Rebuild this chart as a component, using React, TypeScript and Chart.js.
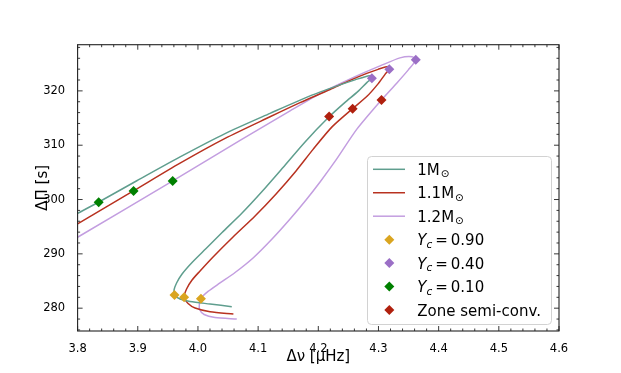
import React, { useEffect, useRef } from 'react';
import { Chart, registerables } from 'chart.js';

Chart.register(...registerables);

// ---- Data ----
const massLabels = ['1M', '1.1M', '1.2M'];
const lineColors = ['#5f9e8e', '#b83220', '#c39ee0'];

const track1_dnu = [4.0562, 4.0201, 3.9869, 3.9703, 3.9615, 3.9603, 3.9645, 3.9736, 3.9902, 4.0135, 4.0401, 4.0733, 4.1065, 4.1414, 4.1780, 4.2184, 4.2444, 4.2660, 4.2810, 4.2890, 4.2851, 4.2610, 4.2361, 4.1863, 4.1198, 4.0451, 3.9703, 3.8984, 3.8346, 3.8000];
const track1_dP = [280.28, 280.77, 281.23, 281.69, 282.43, 283.35, 284.64, 286.30, 288.42, 290.99, 293.94, 297.53, 301.49, 305.91, 310.61, 315.27, 317.88, 319.91, 321.57, 322.34, 322.80, 322.03, 321.10, 319.08, 315.86, 312.14, 307.85, 303.46, 299.50, 297.46];

const track11_dnu = [4.0589, 4.0201, 3.9952, 3.9836, 3.9770, 3.9811, 3.9902, 4.0035, 4.0251, 4.0583, 4.0949, 4.1298, 4.1630, 4.1913, 4.2228, 4.2566, 4.2805, 4.2993, 4.3109, 4.3180, 4.3164, 4.2993, 4.2805, 4.2527, 4.2195, 4.1697, 4.1198, 4.0451, 3.9703, 3.8927, 3.8000];
const track11_dP = [278.93, 279.36, 280.04, 280.87, 282.01, 283.54, 285.19, 286.85, 289.43, 293.11, 296.98, 301.03, 305.27, 309.23, 313.37, 316.69, 318.95, 321.29, 323.04, 324.00, 324.48, 323.96, 323.22, 321.93, 320.26, 317.83, 315.23, 311.25, 306.69, 301.58, 295.51];

const track12_dnu = [4.0645, 4.0284, 4.0102, 4.0027, 4.0024, 4.0047, 4.0168, 4.0367, 4.0617, 4.0916, 4.1231, 4.1531, 4.1796, 4.2029, 4.2295, 4.2644, 4.3050, 4.3303, 4.3496, 4.3620, 4.3557, 4.3358, 4.3026, 4.2639, 4.2084, 4.1531, 4.0700, 3.9582, 3.8000];
const track12_dP = [278.01, 278.29, 278.84, 279.76, 280.77, 281.75, 283.08, 284.64, 286.57, 289.25, 292.74, 296.43, 299.93, 303.24, 307.29, 313.00, 318.34, 321.42, 323.87, 325.71, 326.30, 326.08, 324.60, 322.76, 319.82, 316.32, 310.88, 303.43, 293.06];

const markerLabels = ['0.90', '0.40', '0.10', 'Zone semi-conv.'];
const markerColors = ['#daa520', '#9b6fc6', '#008000', '#b0200e'];

const yc090_dnu = [3.961, 3.977, 4.005];
const yc090_dP = [282.43, 282.01, 281.75];
const yc040_dnu = [4.289, 4.318, 4.362];
const yc040_dP = [322.34, 324.00, 325.71];
const yc010_dnu = [3.835, 3.893, 3.958];
const yc010_dP = [299.50, 301.58, 303.43];
const semi_dnu = [4.218, 4.257, 4.305];
const semi_dP = [315.27, 316.69, 318.34];

const xMajorTicks = [3.8, 3.9, 4.0, 4.1, 4.2, 4.3, 4.4, 4.5, 4.6];
const yMajorTicks = [280, 290, 300, 310, 320];
const xMinorStep = 0.02;
const yMinorStep = 2;
const xRange = [3.8, 4.6];
const yRange = [275.8, 328.5];

const FONT = 'DejaVu Sans';

const pts = (xs: number[], ys: number[]) => xs.map((x, i) => ({ x, y: ys[i] }));

const frameTicksPlugin = {
  id: 'frameTicks',
  afterDatasetsDraw(chart: any) {
    const { ctx, chartArea: a, scales } = chart;
    const xs = scales.x, ys = scales.y;
    ctx.save();
    ctx.strokeStyle = '#222';
    ctx.lineWidth = 0.9;
    const tick = (x1: number, y1: number, x2: number, y2: number) => {
      ctx.beginPath(); ctx.moveTo(x1, y1); ctx.lineTo(x2, y2); ctx.stroke();
    };
    for (let v = xRange[0]; v <= xRange[1] + 1e-9; v += xMinorStep) {
      const isMajor = xMajorTicks.some(m => Math.abs(m - v) < 1e-6);
      const len = isMajor ? 5 : 2.5;
      const px = xs.getPixelForValue(v);
      tick(px, a.bottom, px, a.bottom - len);
      tick(px, a.top, px, a.top + len);
    }
    for (let v = 276; v <= yRange[1]; v += yMinorStep) {
      const isMajor = yMajorTicks.includes(v);
      const len = isMajor ? 5 : 2.5;
      const py = ys.getPixelForValue(v);
      tick(a.left, py, a.left + len, py);
      tick(a.right, py, a.right - len, py);
    }
    ctx.lineWidth = 1.1;
    ctx.strokeRect(a.left, a.top, a.right - a.left, a.bottom - a.top);
    ctx.restore();
  },
};

const legendPlugin = {
  id: 'customLegend',
  afterDraw(chart: any) {
    const ctx = chart.ctx;
    ctx.save();
    const bx = 367.5, by = 156.5, bw = 184, bh = 168, r = 4;
    ctx.beginPath();
    ctx.moveTo(bx + r, by);
    ctx.arcTo(bx + bw, by, bx + bw, by + bh, r);
    ctx.arcTo(bx + bw, by + bh, bx, by + bh, r);
    ctx.arcTo(bx, by + bh, bx, by, r);
    ctx.arcTo(bx, by, bx + bw, by, r);
    ctx.closePath();
    ctx.fillStyle = 'rgba(255,255,255,0.8)';
    ctx.fill();
    ctx.strokeStyle = '#d2d2d2';
    ctx.lineWidth = 1;
    ctx.stroke();

    const rowY0 = 169.3, rowStep = 23.45;
    const textX = 417.3;
    ctx.fillStyle = '#000';
    ctx.textBaseline = 'alphabetic';
    ctx.textAlign = 'left';
    massLabels.forEach((lab, i) => {
      const y = rowY0 + i * rowStep;
      ctx.strokeStyle = lineColors[i];
      ctx.lineWidth = 1.5;
      ctx.beginPath(); ctx.moveTo(373, y); ctx.lineTo(405, y); ctx.stroke();
      ctx.fillStyle = '#000';
      ctx.font = `15px "${FONT}"`;
      const base = y + 5.5;
      ctx.fillText(lab, textX, base);
      const w = ctx.measureText(lab).width;
      ctx.font = `10.5px "${FONT}"`;
      ctx.fillText('\u2299', textX + w + 1, base + 2.5);
    });
    markerLabels.forEach((lab, i) => {
      const y = rowY0 + (i + 3) * rowStep;
      const mx = 389.3, rr = 5;
      ctx.fillStyle = markerColors[i];
      ctx.beginPath();
      ctx.moveTo(mx - rr, y); ctx.lineTo(mx, y - rr); ctx.lineTo(mx + rr, y); ctx.lineTo(mx, y + rr);
      ctx.closePath(); ctx.fill();
      ctx.fillStyle = '#000';
      const base = y + 5.5;
      if (i < 3) {
        let x = textX;
        ctx.font = `italic 15px "${FONT}"`;
        ctx.fillText('Y', x, base);
        x += ctx.measureText('Y').width;
        ctx.font = `italic 10.5px "${FONT}"`;
        ctx.fillText('c', x, base + 2.5);
        x += ctx.measureText('c').width + 3;
        ctx.font = `15px "${FONT}"`;
        ctx.fillText('=', x, base);
        x += ctx.measureText('=').width + 3;
        ctx.fillText(lab, x, base);
      } else {
        ctx.font = `15px "${FONT}"`;
        ctx.fillText(lab, textX, base);
      }
    });
    ctx.restore();
  },
};

export default function App() {
  const ref = useRef<HTMLCanvasElement | null>(null);
  useEffect(() => {
    if (!ref.current) return;
    const lineDs = (xs: number[], ys: number[], i: number) => ({
      label: massLabels[i],
      data: pts(xs, ys),
      showLine: true,
      borderColor: lineColors[i],
      backgroundColor: lineColors[i],
      borderWidth: 1.5,
      pointRadius: 0,
      tension: 0.25,
      order: 1,
    });
    const markDs = (xs: number[], ys: number[], i: number) => ({
      label: markerLabels[i],
      data: pts(xs, ys),
      showLine: false,
      pointStyle: 'rectRot',
      pointRadius: 5,
      pointBackgroundColor: markerColors[i],
      pointBorderColor: markerColors[i],
      pointBorderWidth: 0,
      order: 0,
    });
    const chart = new Chart(ref.current, {
      type: 'scatter',
      data: {
        datasets: [
          lineDs(track1_dnu, track1_dP, 0),
          lineDs(track11_dnu, track11_dP, 1),
          lineDs(track12_dnu, track12_dP, 2),
          markDs(yc090_dnu, yc090_dP, 0),
          markDs(yc040_dnu, yc040_dP, 1),
          markDs(yc010_dnu, yc010_dP, 2),
          markDs(semi_dnu, semi_dP, 3),
        ] as any,
      },
      options: {
        animation: false,
        responsive: false,
        maintainAspectRatio: false,
        layout: { padding: { left: 0, top: 44.7, right: 62, bottom: 0 } },
        plugins: { legend: { display: false }, tooltip: { enabled: false } },
        scales: {
          x: {
            type: 'linear',
            min: xRange[0],
            max: xRange[1],
            grid: { display: false },
            border: { display: false },
            ticks: {
              color: '#000',
              font: { family: FONT, size: 11.5 },
              padding: 3,
              autoSkip: false,
              maxRotation: 0,
              callback: (v: any) => Number(v).toFixed(1),
            },
            afterBuildTicks: (s: any) => { s.ticks = xMajorTicks.map(v => ({ value: v })); },
            afterFit: (s: any) => { s.height = 42; },
            title: {
              display: true,
              text: 'Δν [μHz]',
              color: '#000',
              font: { family: FONT, size: 15 },
              padding: { top: 0, bottom: 7 },
            },
          },
          y: {
            type: 'linear',
            min: yRange[0],
            max: yRange[1],
            grid: { display: false },
            border: { display: false },
            ticks: {
              color: '#000',
              font: { family: FONT, size: 11.5 },
              padding: 4.5,
              autoSkip: false,
              callback: (v: any) => String(Math.round(Number(v))),
            },
            afterBuildTicks: (s: any) => { s.ticks = yMajorTicks.map(v => ({ value: v })); },
            afterFit: (s: any) => { s.width = 77.6; },
            title: {
              display: true,
              text: 'ΔΠ [s]',
              color: '#000',
              font: { family: FONT, size: 15 },
              padding: { top: 34, bottom: 0 },
            },
          },
        },
      } as any,
      plugins: [frameTicksPlugin, legendPlugin],
    });
    return () => chart.destroy();
  }, []);
  return (
    <div style={{ position: 'absolute', left: 0, top: 0, width: 621, height: 373, background: '#fff' }}>
      <canvas ref={ref} width={621} height={373} style={{ width: 621, height: 373, display: 'block' }} />
    </div>
  );
}
